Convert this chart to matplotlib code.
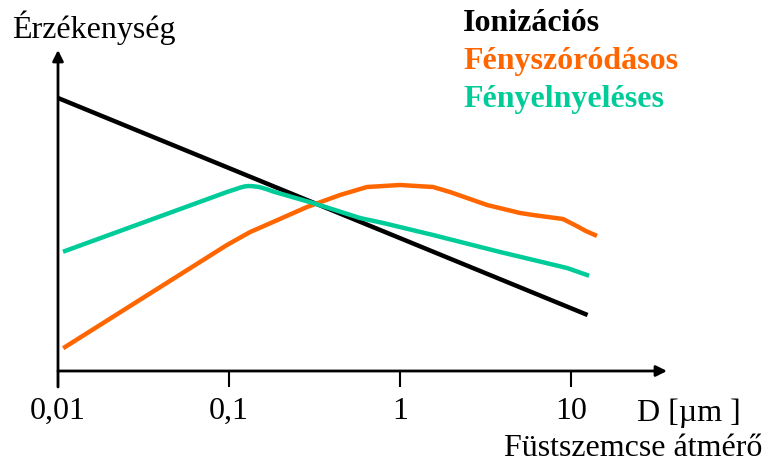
import numpy as np
import matplotlib
matplotlib.use('Agg')
import matplotlib.pyplot as plt

plt.rcParams['font.family'] = ['Liberation Serif', 'DejaVu Serif']

# particle diameter (um) and relative sensitivity
ion_x = [0.01, 12.5]
ion_y = [273, 56]

scat_x = [0.011, 0.0973, 0.133, 0.181, 0.286, 0.446, 0.641, 1.0, 1.56, 1.96,
          3.23, 5.04, 6.0, 8.97, 10.8, 12.2, 13.8]
scat_y = [24, 126, 139, 149, 164, 176, 184, 186, 184, 179,
          166, 158, 156, 152, 145, 140, 136]

abs_x = [0.011, 0.0973, 0.108, 0.116, 0.123, 0.130, 0.138, 0.150, 0.165, 0.181,
         0.310, 0.583, 0.797, 1.56, 3.85, 9.48, 12.4]
abs_y = [120, 179, 181.5, 183.3, 184.5, 185, 184.8, 184, 182, 179.5,
         168, 153, 148, 136, 119, 103, 96]

tick_vals = [0.01, 0.1, 1, 10]
tick_labels = ['0,01', '0,1', '1', '10']

W, H = 766, 463
fig = plt.figure(figsize=(W / 100, H / 100), dpi=100)
# axes from x=58 to arrow tip x=667, y from 371 (axis) to 50 (arrow tip)
ax = fig.add_axes([58 / W, 1 - 371 / H, (667 - 58) / W, (371 - 50) / H])
ax.set_xscale('log')
ax.set_xlim(0.01, 10 ** (-2 + 609 / 171))
ax.set_ylim(0, 321)

ax.plot(ion_x, ion_y, color='black', lw=3.2, solid_capstyle='butt')
ax.plot(scat_x, scat_y, color='#ff6600', lw=3.2, solid_joinstyle='round')
ax.plot(abs_x, abs_y, color='#00cc99', lw=3.2, solid_joinstyle='round')

for s in ax.spines.values():
    s.set_visible(False)

# axes with arrows
ax.annotate('', xy=(1, 0), xytext=(0, 0), xycoords='axes fraction',
            arrowprops=dict(arrowstyle='-|>', lw=2, color='black', mutation_scale=16,
                            shrinkA=0, shrinkB=0))
ax.annotate('', xy=(0, 1), xytext=(0, -16 / 321), xycoords='axes fraction',
            arrowprops=dict(arrowstyle='-|>', lw=2, color='black', mutation_scale=16,
                            shrinkA=0, shrinkB=0))

fs = 23
ax.set_xticks(tick_vals)
ax.set_xticklabels(tick_labels)
ax.minorticks_off()
ax.tick_params(axis='x', direction='out', length=11.5, width=1.5, pad=7, labelsize=fs)
ax.set_yticks([])

fig.text(12 / W, 1 - 38 / H, 'Érzékenység', fontsize=fs, va='baseline', ha='left')
fig.text(637 / W, 1 - 421 / H, 'D [µm ]', fontsize=fs, va='baseline', ha='left')
fig.text(762 / W, 1 - 456 / H, 'Füstszemcse átmérő', fontsize=fs, va='baseline', ha='right')

fig.text(463 / W, 1 - 31 / H, 'Ionizációs', fontsize=fs, weight='bold', color='black', va='baseline')
fig.text(463 / W, 1 - 69 / H, 'Fényszóródásos', fontsize=fs, weight='bold', color='#ff6600', va='baseline')
fig.text(463 / W, 1 - 107 / H, 'Fényelnyeléses', fontsize=fs, weight='bold', color='#00cc99', va='baseline')

fig.savefig('out.png', dpi=100)
